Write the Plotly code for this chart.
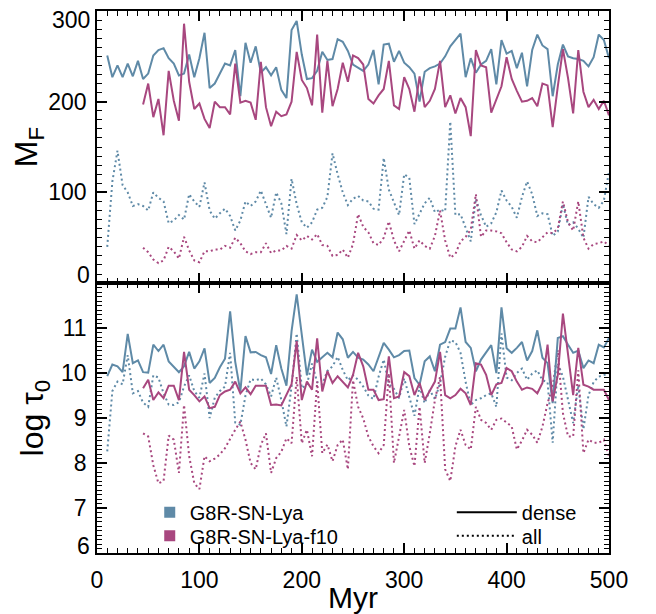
import plotly.graph_objects as go

# ---------------- data ----------------
t_lya = list(range(10, 505, 5))   # G8R-SN-Lya snapshots (Myr)
t_f10 = list(range(45, 505, 5))   # G8R-SN-Lya-f10 snapshots (Myr)

mf_lya_dense = [
    251, 227, 240, 227, 242, 228, 245, 225, 231, 251,
    257, 259, 248, 242, 229, 231, 252, 227, 248, 276,
    215, 220, 231, 242, 240, 257, 206, 265, 243, 261,
    232, 238, 229, 238, 213, 204, 279, 289, 252, 225,
    226, 234, 255, 246, 247, 269, 266, 256, 241, 237,
    234, 241, 257, 219, 263, 264, 244, 256, 243, 238,
    231, 200, 233, 237, 239, 242, 250, 261, 268, 275,
    227, 248, 232, 241, 245, 258, 219, 268, 253, 256,
    237, 254, 217, 257, 274, 262, 258, 206, 241, 263,
    250, 248, 247, 245, 239, 249, 274, 268, 248]

mf_f10_dense = [
    197, 220, 183, 203, 163, 234, 201, 179, 286, 222,
    192, 198, 181, 171, 200, 194, 194, 186, 242, 199,
    201, 199, 180, 244, 194, 173, 189, 184, 186, 200,
    255, 224, 215, 196, 274, 188, 245, 195, 214, 243,
    222, 251, 248, 241, 203, 198, 207, 214, 245, 196,
    192, 227, 214, 189, 228, 194, 201, 214, 245, 194,
    207, 187, 204, 194, 162, 257, 240, 238, 188, 203,
    217, 249, 225, 212, 200, 201, 204, 195, 220, 218,
    172, 217, 258, 226, 187, 257, 211, 194, 202, 192,
    201, 185]

mf_lya_all = [
    40, 112, 146, 108, 100, 85, 87, 85, 80, 100,
    94, 90, 66, 69, 75, 70, 98, 90, 84, 111,
    80, 71, 77, 82, 74, 58, 69, 90, 85, 90,
    102, 86, 72, 100, 88, 54, 115, 87, 67, 61,
    67, 81, 83, 95, 143, 120, 100, 86, 93, 96,
    91, 90, 82, 81, 138, 103, 88, 75, 120, 116,
    65, 77, 88, 94, 78, 81, 79, 178, 75, 76,
    60, 46, 93, 75, 62, 66, 78, 102, 91, 84,
    72, 95, 112, 98, 74, 77, 76, 52, 57, 87,
    64, 67, 60, 50, 95, 87, 83, 91, 123]

mf_f10_all = [
    39, 34, 26, 22, 25, 40, 35, 27, 51, 36,
    25, 23, 35, 35, 37, 37, 41, 39, 50, 44,
    35, 32, 34, 34, 44, 33, 36, 36, 41, 38,
    53, 47, 52, 48, 54, 42, 41, 30, 31, 37,
    28, 43, 76, 62, 56, 44, 42, 50, 68, 47,
    35, 47, 58, 38, 47, 41, 38, 52, 80, 47,
    28, 32, 46, 51, 59, 98, 51, 58, 58, 57,
    55, 45, 37, 35, 40, 52, 46, 45, 50, 56,
    55, 60, 90, 67, 58, 90, 50, 38, 43, 44,
    46, 41]

tau_lya_dense = [
    9.93, 10.19, 10.15, 10.02, 10.87, 10.22, 10.28, 10.02, 10.01, 10.63,
    10.49, 10.63, 10.26, 10.15, 10.02, 10.15, 10.47, 10.10, 10.26, 10.55,
    9.78, 9.89, 10.13, 10.32, 11.37, 10.25, 9.59, 10.82, 10.46, 10.47,
    10.40, 10.35, 9.98, 10.62, 10.10, 9.72, 10.93, 11.75, 10.87, 9.95,
    10.52, 10.25, 10.35, 10.45, 10.35, 10.90, 10.75, 10.34, 10.47, 10.34,
    10.30, 10.19, 10.04, 10.35, 10.67, 10.52, 10.35, 10.40, 10.49, 10.50,
    9.89, 9.74, 10.26, 10.37, 10.04, 10.63, 10.69, 10.99, 10.99, 11.46,
    10.69, 10.56, 10.04, 10.30, 10.45, 10.62, 10.00, 11.46, 10.55, 10.45,
    10.56, 10.69, 10.28, 10.49, 10.95, 10.34, 10.22, 9.33, 10.78, 10.82,
    10.63, 10.45, 10.50, 10.11, 10.28, 10.22, 10.63, 10.57, 10.78]

tau_f10_dense = [
    9.66, 9.85, 9.40, 9.57, 9.44, 9.72, 9.72, 9.40, 10.47, 9.63,
    9.51, 9.37, 9.48, 9.22, 9.25, 9.51, 9.59, 9.63, 9.81, 9.55,
    9.68, 9.53, 9.72, 9.72, 9.72, 9.29, 9.30, 9.28, 9.51, 9.75,
    10.71, 9.40, 9.81, 9.63, 10.77, 9.59, 10.04, 9.78, 9.93, 9.81,
    9.68, 9.96, 10.45, 10.15, 9.63, 9.63, 9.40, 9.42, 10.37, 9.44,
    9.48, 10.02, 9.93, 9.51, 9.78, 9.40, 9.59, 9.81, 10.47, 9.51,
    9.44, 9.51, 9.65, 9.55, 9.29, 10.22, 10.19, 9.96, 9.51, 9.75,
    9.78, 10.11, 10.04, 9.81, 9.63, 9.68, 9.65, 9.55, 9.78, 10.63,
    9.37, 9.96, 11.32, 10.45, 9.51, 10.56, 9.74, 9.70, 9.63, 9.63,
    9.63, 9.40]

tau_lya_all = [
    8.26, 9.60, 9.81, 9.75, 10.40, 9.55, 9.60, 9.34, 9.25, 9.95,
    9.90, 9.55, 9.30, 9.29, 9.35, 9.70, 9.95, 9.60, 9.45, 9.99,
    9.00, 9.45, 9.60, 9.70, 10.45, 8.90, 8.85, 9.50, 9.86, 9.84,
    9.88, 9.75, 9.48, 9.90, 9.40, 8.81, 9.70, 10.88, 9.66, 9.75,
    10.21, 9.80, 9.75, 10.05, 10.15, 10.36, 10.07, 9.84, 9.95, 9.85,
    9.70, 9.50, 9.42, 9.92, 10.30, 9.75, 9.65, 9.44, 9.88, 9.45,
    9.05, 9.70, 9.33, 9.62, 9.42, 9.77, 10.36, 10.73, 10.69, 10.45,
    9.80, 9.29, 9.40, 9.44, 9.51, 9.55, 9.25, 10.88, 9.90, 9.84,
    10.00, 10.10, 9.85, 9.99, 10.06, 9.84, 9.80, 8.45, 10.21, 9.92,
    9.40, 8.89, 9.73, 8.75, 9.51, 9.80, 9.92, 9.95, 9.99]

tau_f10_all = [
    8.66, 8.59, 7.95, 7.55, 7.60, 8.61, 8.52, 7.78, 9.29, 8.15,
    7.55, 7.42, 8.15, 8.04, 8.10, 8.19, 8.33, 8.55, 8.74, 8.92,
    8.52, 8.00, 7.86, 8.40, 8.66, 7.78, 8.11, 8.25, 8.55, 8.44,
    9.92, 8.44, 8.74, 8.15, 9.81, 8.22, 8.41, 8.04, 8.40, 8.52,
    7.86, 9.84, 9.25, 8.99, 8.59, 8.37, 8.22, 8.40, 9.99, 8.00,
    8.60, 9.18, 8.37, 7.93, 9.25, 8.00, 8.66, 9.40, 9.92, 7.86,
    7.60, 8.37, 8.74, 8.40, 8.30, 9.25, 8.96, 8.89, 8.74, 8.96,
    8.99, 8.90, 8.81, 8.30, 8.50, 8.74, 8.63, 8.45, 8.81, 9.33,
    9.70, 10.51, 9.11, 8.59, 8.59, 10.06, 8.22, 8.52, 8.45, 8.45,
    8.52, 8.15]

series_names = ["G8R-SN-Lya", "G8R-SN-Lya-f10"]
style_names = ["dense", "all"]
mf_ticks = [100, 200]
tau_ticks = [7, 8, 9, 10, 11]
x_ticks = [0, 100, 200, 300, 400, 500]
edge_ticks_mf = [300, 0]
edge_ticks_tau = [6]

# ---------------- styling ----------------
BLUE = "#5f8aa7"
PINK = "#a8477f"
FONT = "Liberation Sans, Arial, Helvetica, sans-serif"
DOT = "2px,3px"

fig = go.Figure()

def add(x, y, color, dash, xa, ya):
    fig.add_trace(go.Scatter(
        x=x, y=y, mode="lines", xaxis=xa, yaxis=ya, showlegend=False,
        line=dict(color=color, width=2, dash=dash), hoverinfo="skip"))

# top panel (M_F)
add(t_lya, mf_lya_all, BLUE, DOT, "x2", "y2")
add(t_f10, mf_f10_all, PINK, DOT, "x2", "y2")
add(t_lya, mf_lya_dense, BLUE, "solid", "x2", "y2")
add(t_f10, mf_f10_dense, PINK, "solid", "x2", "y2")
# bottom panel (log tau0)
add(t_lya, tau_lya_all, BLUE, DOT, "x", "y")
add(t_f10, tau_f10_all, PINK, DOT, "x", "y")
add(t_lya, tau_lya_dense, BLUE, "solid", "x", "y")
add(t_f10, tau_f10_dense, PINK, "solid", "x", "y")

# legend entries (one legend per entry for exact placement)
for name, col, lg in zip(series_names, [BLUE, PINK], ["legend", "legend2"]):
    fig.add_trace(go.Scatter(
        x=[None], y=[None], mode="markers", name=name, legend=lg,
        marker=dict(symbol="square", size=11, color=col)))
for name, dash, lg in zip(style_names, ["solid", DOT], ["legend3", "legend4"]):
    fig.add_trace(go.Scatter(
        x=[None], y=[None], mode="lines", name=name, legend=lg,
        line=dict(color="black", width=2, dash=dash)))

axis_common = dict(
    showline=True, linecolor="black", linewidth=1.5, mirror="allticks",
    ticks="inside", ticklen=10, tickwidth=1.5, tickcolor="black",
    showgrid=False, zeroline=False,
    tickfont=dict(family=FONT, size=23, color="black"),
)

def minor(d):
    return dict(tickmode="linear", tick0=0, dtick=d, ticks="inside",
                ticklen=5, tickwidth=1.2, tickcolor="black")

def leg(x, y, iw):
    return dict(x=x, y=y, xanchor="left", yanchor="middle",
                bgcolor="rgba(0,0,0,0)", font=dict(family=FONT, size=20),
                itemwidth=iw, tracegroupgap=0)

fig.update_layout(
    width=640, height=606,
    margin=dict(l=88.7, r=39.3, t=2.7, b=60.7, autoexpand=False),
    paper_bgcolor="white", plot_bgcolor="white",
    font=dict(family=FONT, color="black", size=23),
    xaxis=dict(
        domain=[0, 1], anchor="y", range=[0, 500],
        tickmode="array", tickvals=x_ticks, ticklabelstandoff=6,
        minor=minor(10),
        title=dict(text="Myr", font=dict(size=30), standoff=0),
        **axis_common),
    xaxis2=dict(
        domain=[0, 1], anchor="y2", range=[0, 500], matches="x",
        tickmode="array", tickvals=x_ticks, showticklabels=False,
        minor=minor(10),
        **axis_common),
    yaxis=dict(
        domain=[0, 0.498], anchor="x", range=[6, 12],
        tickmode="array", tickvals=tau_ticks, ticklabelstandoff=4,
        minor=minor(0.1),
        title=dict(text="log τ<sub>0</sub>", font=dict(size=32), standoff=8),
        **axis_common),
    yaxis2=dict(
        domain=[0.498, 1], anchor="x2", range=[0, 300],
        tickmode="array", tickvals=mf_ticks, ticklabelstandoff=4,
        minor=minor(10),
        title=dict(text="M<sub>F</sub>", font=dict(size=32), standoff=8),
        **axis_common),
    legend=leg(0.103, 0.0752, 30),
    legend2=leg(0.103, 0.0319, 30),
    legend3=leg(0.693, 0.0752, 60),
    legend4=leg(0.693, 0.0319, 60),
)

# edge tick labels, nudged inside the frame as in the original
for yref, vals, shifts in [("y2", edge_ticks_mf, [-9, 8]), ("y", edge_ticks_tau, [7])]:
    for val, shift in zip(vals, shifts):
        fig.add_annotation(xref="paper", yref=yref, x=0, y=val, text=str(val),
                           showarrow=False, xanchor="right", yanchor="middle",
                           xshift=-6, yshift=shift, borderpad=0,
                           font=dict(family=FONT, size=23, color="black"))

fig.write_html("out.html")
